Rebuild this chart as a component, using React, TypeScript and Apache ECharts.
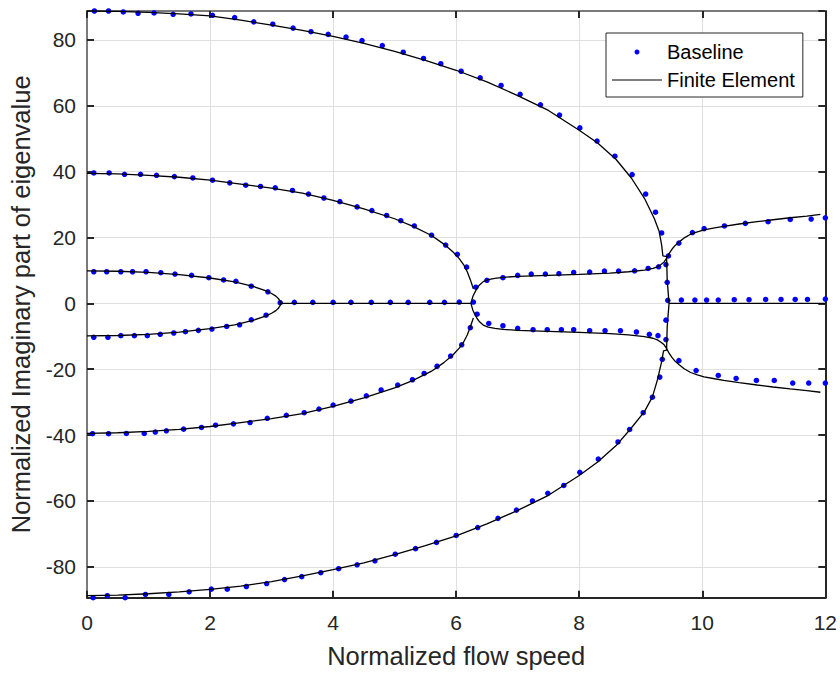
import React, { useEffect, useRef } from "react";
import * as echarts from "echarts";

// Axis setup
const xTickValues = [0, 2, 4, 6, 8, 10, 12];
const yMin = -89.4;
const yMax = 88.8;

// Baseline eigenvalues (imaginary part) vs. normalized flow speed, per branch
const baseUpper3 = [
  [0.12, 88.8], [0.35, 88.8], [0.59, 88.5], [0.83, 88.1], [1.09, 88.2], [1.4, 87.8], [1.69, 87.9],
  [2.04, 87.5], [2.4, 86.8], [2.71, 85.5], [3.02, 84.8], [3.35, 83.6], [3.64, 82.5], [3.92, 81.7],
  [4.21, 80.9], [4.47, 79.8], [4.8, 78.3], [5.14, 76.3], [5.47, 74.4], [5.75, 72.8], [6.08, 70.5],
  [6.39, 68.5], [6.73, 66.2], [7.04, 63.5], [7.37, 60.3], [7.68, 57.2], [8.01, 53.3], [8.29, 49.3],
  [8.58, 44.7], [8.86, 39.1], [9.08, 33.2], [9.24, 27.7], [9.34, 21.4],
];
const baseUpper2 = [
  [0.11, 39.6], [0.36, 39.6], [0.61, 39.2], [0.87, 39.2], [1.13, 38.9], [1.42, 38.5], [1.72, 38.1],
  [2.04, 37.4], [2.32, 36.6], [2.58, 35.9], [2.82, 35.5], [3.06, 35.1], [3.34, 34.3], [3.6, 33.2],
  [3.85, 32.0], [4.11, 30.9], [4.39, 29.3], [4.63, 28.2], [4.87, 26.7], [5.1, 25.1], [5.32, 23.5],
  [5.6, 20.7], [5.83, 17.7], [6.02, 14.9], [6.17, 11.0],
];
const baseUpper1 = [
  [0.11, 9.6], [0.32, 9.6], [0.55, 9.6], [0.74, 9.6], [0.96, 9.6], [1.2, 9.3], [1.43, 8.9],
  [1.7, 8.5], [1.98, 7.8], [2.22, 7.1], [2.42, 6.7], [2.67, 5.2], [2.94, 3.5], [3.14, 0.2],
];
const baseDivergence1 = [
  [3.37, 0.3], [3.67, 0.3], [4.0, 0.3], [4.29, 0.3], [4.62, 0.3], [4.93, 0.3], [5.22, 0.3],
  [5.57, 0.3], [5.81, 0.3], [6.05, 0.4], [6.28, 0.4],
];
const baseUpperFlutter = [
  [6.32, 4.9], [6.5, 7.0], [6.76, 7.8], [7.0, 8.5], [7.22, 8.9], [7.45, 8.9], [7.67, 9.0],
  [7.91, 9.4], [8.17, 9.5], [8.41, 9.8], [8.64, 9.8], [8.9, 9.9], [9.12, 10.6], [9.29, 11.1],
  [9.41, 11.8], [9.45, 14.4], [9.62, 18.3], [9.84, 21.5], [10.03, 22.7], [10.36, 23.5],
  [10.7, 24.3], [11.07, 24.8], [11.43, 25.5], [11.77, 25.6], [12.0, 26.0],
];
const baseDivergence3 = [
  [9.43, 6.4], [9.44, 0.9], [9.41, -5.1], [9.66, 1.0], [9.88, 1.0], [10.07, 1.0], [10.26, 1.0],
  [10.52, 1.1], [10.76, 1.1], [11.03, 1.2], [11.28, 1.2], [11.51, 1.2], [11.71, 1.2], [12.0, 1.3],
];
const baseLowerFlutter = [
  [6.34, -3.3], [6.53, -6.1], [6.76, -6.8], [7.0, -7.6], [7.25, -8.0], [7.48, -8.0], [7.71, -8.0],
  [7.91, -8.0], [8.17, -8.3], [8.42, -8.3], [8.67, -8.3], [8.93, -8.7], [9.14, -9.4], [9.28, -9.8],
  [9.41, -11.0], [9.62, -17.4], [9.9, -20.4], [10.26, -21.9], [10.55, -22.8], [10.88, -23.4],
  [11.17, -23.4], [11.47, -24.2], [11.73, -24.2], [12.0, -24.2],
];
const baseLower1 = [
  [0.11, -10.3], [0.34, -10.3], [0.55, -9.8], [0.77, -9.8], [0.98, -9.8], [1.19, -9.4], [1.41, -9.0],
  [1.6, -8.6], [1.81, -8.2], [2.03, -7.8], [2.27, -7.0], [2.48, -6.5], [2.67, -5.0], [2.91, -3.6],
];
const baseLower2 = [
  [0.09, -39.6], [0.35, -39.6], [0.64, -39.5], [0.93, -39.5], [1.11, -39.1], [1.29, -38.7],
  [1.57, -38.2], [1.86, -37.7], [2.09, -37.0], [2.38, -36.6], [2.65, -36.2], [2.93, -34.9],
  [3.24, -34.0], [3.53, -33.2], [3.77, -32.1], [4.0, -30.9], [4.29, -29.7], [4.54, -28.1],
  [4.78, -26.3], [5.05, -24.8], [5.29, -23.2], [5.48, -21.3], [5.69, -19.1], [5.91, -16.0],
  [6.09, -12.6], [6.23, -7.4],
];
const baseLower3 = [
  [0.1, -89.4], [0.33, -88.8], [0.62, -89.4], [0.95, -88.4], [1.33, -88.4], [1.66, -87.6],
  [2.02, -86.8], [2.28, -86.8], [2.59, -86.0], [2.92, -85.1], [3.21, -83.9], [3.49, -83.0],
  [3.8, -81.8], [4.09, -80.6], [4.39, -79.4], [4.68, -78.2], [5.01, -76.2], [5.34, -74.5],
  [5.68, -72.6], [6.0, -70.5], [6.35, -68.1], [6.68, -65.3], [6.98, -62.8], [7.24, -60.0],
  [7.49, -57.7], [7.75, -55.3], [8.01, -51.3], [8.31, -47.3], [8.63, -42.1], [8.82, -38.3],
  [9.04, -33.2], [9.19, -28.5], [9.31, -22.4], [9.35, -17.0],
];

// Finite element solution, one polyline per branch
const feUpper1 = [
  [0, 9.87], [0.5, 9.76], [1.0, 9.4], [1.5, 8.75], [2.0, 7.7], [2.4, 6.55], [2.7, 5.15],
  [2.9, 3.85], [3.0, 3.0], [3.07, 2.2], [3.11, 1.5], [3.14, 0.6], [3.15, 0],
];
const feLower1 = [
  [0, -9.87], [0.5, -9.76], [1.0, -9.4], [1.5, -8.75], [2.0, -7.7], [2.4, -6.55], [2.7, -5.15],
  [2.9, -3.85], [3.0, -3.0], [3.07, -2.2], [3.11, -1.5], [3.14, -0.6], [3.15, 0],
];
const feDivergence1 = [[3.15, 0], [6.24, 0]];
const feUpper2 = [
  [0, 39.5], [0.5, 39.3], [1.0, 38.9], [1.5, 38.3], [2.0, 37.4], [2.5, 36.2], [3.0, 35.0],
  [3.5, 33.5], [4.0, 31.3], [4.5, 28.7], [5.0, 25.7], [5.3, 23.4], [5.6, 20.6], [5.8, 18.0],
  [5.95, 15.6], [6.05, 13.6], [6.12, 11.8], [6.18, 9.6], [6.23, 7.2], [6.26, 5.5], [6.28, 4.4],
];
const feLower2 = [
  [0, -39.5], [0.5, -39.3], [1.0, -38.9], [1.5, -38.3], [2.0, -37.4], [2.5, -36.2], [3.0, -35.0],
  [3.5, -33.5], [4.0, -31.3], [4.5, -28.7], [5.0, -25.7], [5.3, -23.4], [5.6, -20.6], [5.8, -18.0],
  [5.95, -15.6], [6.05, -13.6], [6.12, -11.8], [6.18, -9.6], [6.23, -7.2], [6.26, -5.5], [6.28, -4.4],
];
const feUpperFlutter = [
  [6.24, 0], [6.27, 2.0], [6.3, 3.2], [6.34, 4.6], [6.38, 5.6], [6.44, 6.6], [6.52, 7.2],
  [6.63, 7.6], [6.76, 7.9], [7.0, 8.2], [7.5, 8.5], [8.0, 8.8], [8.5, 9.2], [8.8, 9.6],
  [9.06, 10.1], [9.2, 10.6], [9.27, 11.1], [9.33, 11.8], [9.38, 12.6], [9.42, 13.7], [9.46, 15.1],
  [9.51, 16.5], [9.56, 17.6], [9.62, 18.6], [9.7, 19.8], [9.81, 21.0], [9.92, 21.7], [10.03, 22.3],
  [10.2, 22.9], [10.35, 23.4], [10.6, 24.1], [10.89, 24.8], [11.15, 25.4], [11.43, 26.0],
  [11.7, 26.5], [11.92, 27.0],
];
const feLowerFlutter = [
  [6.24, 0], [6.27, -2.0], [6.3, -3.2], [6.34, -4.6], [6.38, -5.6], [6.44, -6.6], [6.52, -7.2],
  [6.63, -7.6], [6.76, -7.9], [7.0, -8.2], [7.5, -8.5], [8.0, -8.8], [8.5, -9.2], [8.8, -9.6],
  [9.06, -10.1], [9.2, -10.6], [9.27, -11.1], [9.33, -11.8], [9.38, -12.6], [9.42, -13.7],
  [9.46, -15.1], [9.51, -16.5], [9.56, -17.6], [9.62, -18.6], [9.7, -19.8], [9.81, -21.0],
  [9.92, -21.7], [10.03, -22.3], [10.2, -22.9], [10.35, -23.4], [10.6, -24.1], [10.89, -24.8],
  [11.15, -25.4], [11.43, -26.0], [11.7, -26.5], [11.92, -27.0],
];
const feUpper3 = [
  [0, 88.8], [0.5, 88.7], [1.0, 88.4], [1.5, 87.9], [2.0, 87.3], [2.5, 86.0], [3.0, 84.5],
  [3.5, 82.9], [4.0, 81.1], [4.5, 79.0], [5.0, 76.5], [5.5, 73.8], [6.0, 70.8], [6.5, 67.3],
  [7.0, 63.1], [7.5, 58.6], [8.0, 52.6], [8.3, 48.7], [8.6, 43.7], [8.85, 38.0], [9.06, 31.9],
  [9.22, 25.8], [9.3, 21.8], [9.34, 17.7], [9.36, 14.4], [9.42, 14.2], [9.43, 7.1], [9.46, 0],
  [12, 0],
];
const feLower3 = [
  [0, -88.8], [0.5, -88.6], [1.0, -88.2], [1.5, -87.6], [2.0, -86.9], [2.5, -85.9], [3.0, -84.5],
  [3.5, -82.8], [4.0, -80.9], [4.5, -78.8], [5.0, -76.3], [5.5, -73.6], [6.0, -70.6], [6.5, -67.0],
  [7.0, -62.9], [7.5, -58.3], [8.0, -52.3], [8.3, -48.2], [8.6, -43.2], [8.84, -38.0],
  [9.06, -32.9], [9.19, -28.4], [9.27, -23.3], [9.34, -17.7], [9.37, -14.4], [9.42, -14.2],
  [9.43, -7.1], [9.46, 0],
];

const baselineBranches = [
  baseUpper3, baseUpper2, baseUpper1, baseDivergence1, baseUpperFlutter, baseDivergence3,
  baseLowerFlutter, baseLower1, baseLower2, baseLower3,
];
const feBranches = [
  feUpper1, feLower1, feDivergence1, feUpper2, feLower2, feUpperFlutter, feLowerFlutter,
  feUpper3, feLower3,
];

const FONT = '"Liberation Sans", Arial, Helvetica, sans-serif';
const AXIS_DARK = "#262626";
const AXIS_GRAY = "#7a7a7a";
const GRID = "#dfdfdf";

export default function App() {
  const ref = useRef<HTMLDivElement>(null);

  useEffect(() => {
    if (!ref.current) return;
    const chart = echarts.init(ref.current, undefined, { renderer: "svg" });

    const tickStyle = { show: true, inside: true, length: 7, lineStyle: { color: AXIS_DARK, width: 2 } };

    chart.setOption({
      animation: false,
      backgroundColor: "#ffffff",
      grid: { left: 87, right: 11, top: 11, bottom: 77.3, containLabel: false },
      legend: {
        left: 606,
        top: 33,
        orient: "vertical",
        padding: [8, 8, 6, 6],
        itemGap: 6,
        itemWidth: 50,
        itemHeight: 5,
        backgroundColor: "#ffffff",
        borderColor: AXIS_DARK,
        borderWidth: 1,
        borderRadius: 0,
        selectedMode: false,
        textStyle: { fontFamily: FONT, fontSize: 20, color: "#000000", lineHeight: 22 },
        data: [
          { name: "Baseline", icon: "circle" },
          { name: "Finite Element", icon: "path://M0,0H50V1.2H0Z" },
        ],
      },
      xAxis: [
        {
          type: "value",
          min: xTickValues[0],
          max: xTickValues[xTickValues.length - 1],
          interval: 2,
          position: "bottom",
          name: "Normalized flow speed",
          nameLocation: "middle",
          nameGap: 45,
          nameTextStyle: { fontFamily: FONT, fontSize: 25.5, color: AXIS_DARK },
          axisLine: { show: true, onZero: false, lineStyle: { color: AXIS_DARK, width: 2 } },
          axisTick: tickStyle,
          axisLabel: { fontFamily: FONT, fontSize: 21, color: AXIS_DARK, margin: 14 },
          splitLine: { show: true, lineStyle: { color: GRID, width: 1 } },
        },
        {
          type: "value",
          min: xTickValues[0],
          max: xTickValues[xTickValues.length - 1],
          interval: 2,
          position: "top",
          axisLine: { show: true, onZero: false, lineStyle: { color: AXIS_GRAY, width: 2 } },
          axisTick: tickStyle,
          axisLabel: { show: false },
          splitLine: { show: false },
        },
      ],
      yAxis: [
        {
          type: "value",
          min: yMin,
          max: yMax,
          splitNumber: 9,
          position: "left",
          name: "Normalized Imaginary part of eigenvalue",
          nameLocation: "middle",
          nameGap: 53,
          nameTextStyle: { fontFamily: FONT, fontSize: 25.5, color: AXIS_DARK },
          axisLine: { show: true, onZero: false, lineStyle: { color: AXIS_GRAY, width: 2 } },
          axisTick: tickStyle,
          axisLabel: {
            fontFamily: FONT,
            fontSize: 21,
            color: AXIS_DARK,
            margin: 11,
            showMinLabel: false,
            showMaxLabel: false,
          },
          splitLine: { show: true, lineStyle: { color: GRID, width: 1 } },
        },
        {
          type: "value",
          min: yMin,
          max: yMax,
          splitNumber: 9,
          position: "right",
          axisLine: { show: true, onZero: false, lineStyle: { color: AXIS_DARK, width: 2 } },
          axisTick: tickStyle,
          axisLabel: { show: false },
          splitLine: { show: false },
        },
      ],
      series: [
        {
          name: "Baseline",
          type: "scatter",
          xAxisIndex: 0,
          yAxisIndex: 0,
          symbol: "circle",
          symbolSize: 5.5,
          clip: false,
          itemStyle: { color: "#0000ff", opacity: 1 },
          emphasis: { disabled: true },
          z: 2,
          data: baselineBranches.flat(),
        },
        ...feBranches.map((branch) => ({
          name: "Finite Element",
          type: "line",
          xAxisIndex: 0,
          yAxisIndex: 0,
          symbol: "none",
          showSymbol: false,
          clip: false,
          lineStyle: { color: "#000000", width: 1.3 },
          itemStyle: { color: "#000000" },
          emphasis: { disabled: true },
          z: 3,
          data: branch,
        })),
      ],
    });

    return () => chart.dispose();
  }, []);

  return (
    <div
      ref={ref}
      style={{ position: "fixed", left: 0, top: 0, width: 840, height: 675, background: "#ffffff" }}
    />
  );
}
